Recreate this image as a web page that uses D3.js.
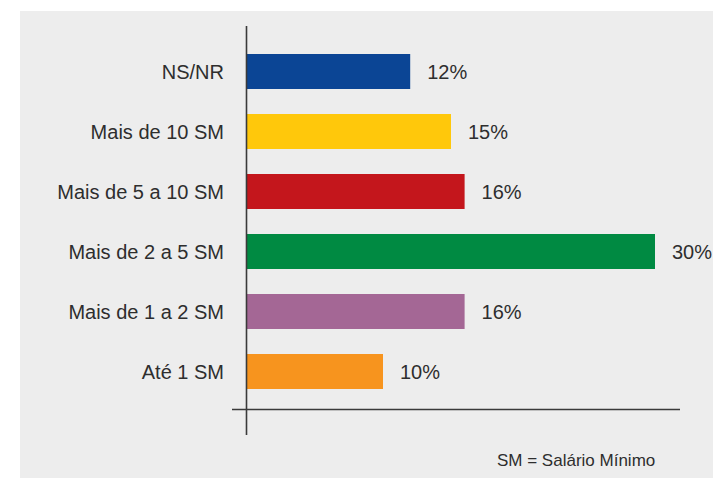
<!DOCTYPE html>
<html>
<head>
<meta charset="utf-8">
<script src="https://cdn.jsdelivr.net/npm/d3@7"></script>
<style>
  html, body { margin: 0; padding: 0; background: #ffffff; }
  svg { display: block; }
  text { font-family: "Liberation Sans", Arial, Helvetica, sans-serif; fill: #2e2e2e; }
</style>
</head>
<body>
<svg id="chart" width="713" height="478"></svg>
<script>
// Renda familiar por faixa de salário mínimo
const categories = ["NS/NR", "Mais de 10 SM", "Mais de 5 a 10 SM", "Mais de 2 a 5 SM", "Mais de 1 a 2 SM", "Até 1 SM"];
const values = [12, 15, 16, 30, 16, 10];
const colors = ["#0b4595", "#ffc80b", "#c4161c", "#008a42", "#a46795", "#f7941e"];
const footnote = "SM = Salário Mínimo";

const svg = d3.select("#chart");
const W = 713, H = 478;

// panel background
svg.append("rect")
  .attr("x", 20).attr("y", 11)
  .attr("width", W - 20).attr("height", H - 11)
  .attr("fill", "#ededed");

const x0 = 247;
const x = d3.scaleLinear().domain([0, 30]).range([x0, 655]);
const y = d3.scaleBand().domain(categories).range([54, 389])
  .paddingInner(25 / 60).paddingOuter(0);

const rows = categories.map((c, i) => ({ cat: c, val: values[i], color: colors[i] }));

// bars
svg.append("g").selectAll("rect")
  .data(rows)
  .join("rect")
  .attr("x", x(0))
  .attr("y", d => y(d.cat))
  .attr("width", d => x(d.val) - x(0))
  .attr("height", y.bandwidth())
  .attr("fill", d => d.color);

// value labels
svg.append("g").selectAll("text")
  .data(rows)
  .join("text")
  .attr("x", d => x(d.val) + 17)
  .attr("y", d => y(d.cat) + y.bandwidth() / 2)
  .attr("dy", "0.36em")
  .attr("font-size", 20)
  .text(d => d.val + "%");

// category labels
svg.append("g").selectAll("text")
  .data(rows)
  .join("text")
  .attr("x", 224)
  .attr("y", d => y(d.cat) + y.bandwidth() / 2)
  .attr("dy", "0.36em")
  .attr("text-anchor", "end")
  .attr("font-size", 20)
  .text(d => d.cat);

// axes lines
svg.append("line")
  .attr("x1", 246.5).attr("x2", 246.5)
  .attr("y1", 26).attr("y2", 435)
  .attr("stroke", "#3a3a3a").attr("stroke-width", 1.6);
svg.append("line")
  .attr("x1", 232).attr("x2", 680)
  .attr("y1", 409.5).attr("y2", 409.5)
  .attr("stroke", "#3a3a3a").attr("stroke-width", 1.6);

// footnote
svg.append("text")
  .attr("x", 497)
  .attr("y", 466)
  .attr("font-size", 17)
  .text(footnote);
</script>
</body>
</html>
